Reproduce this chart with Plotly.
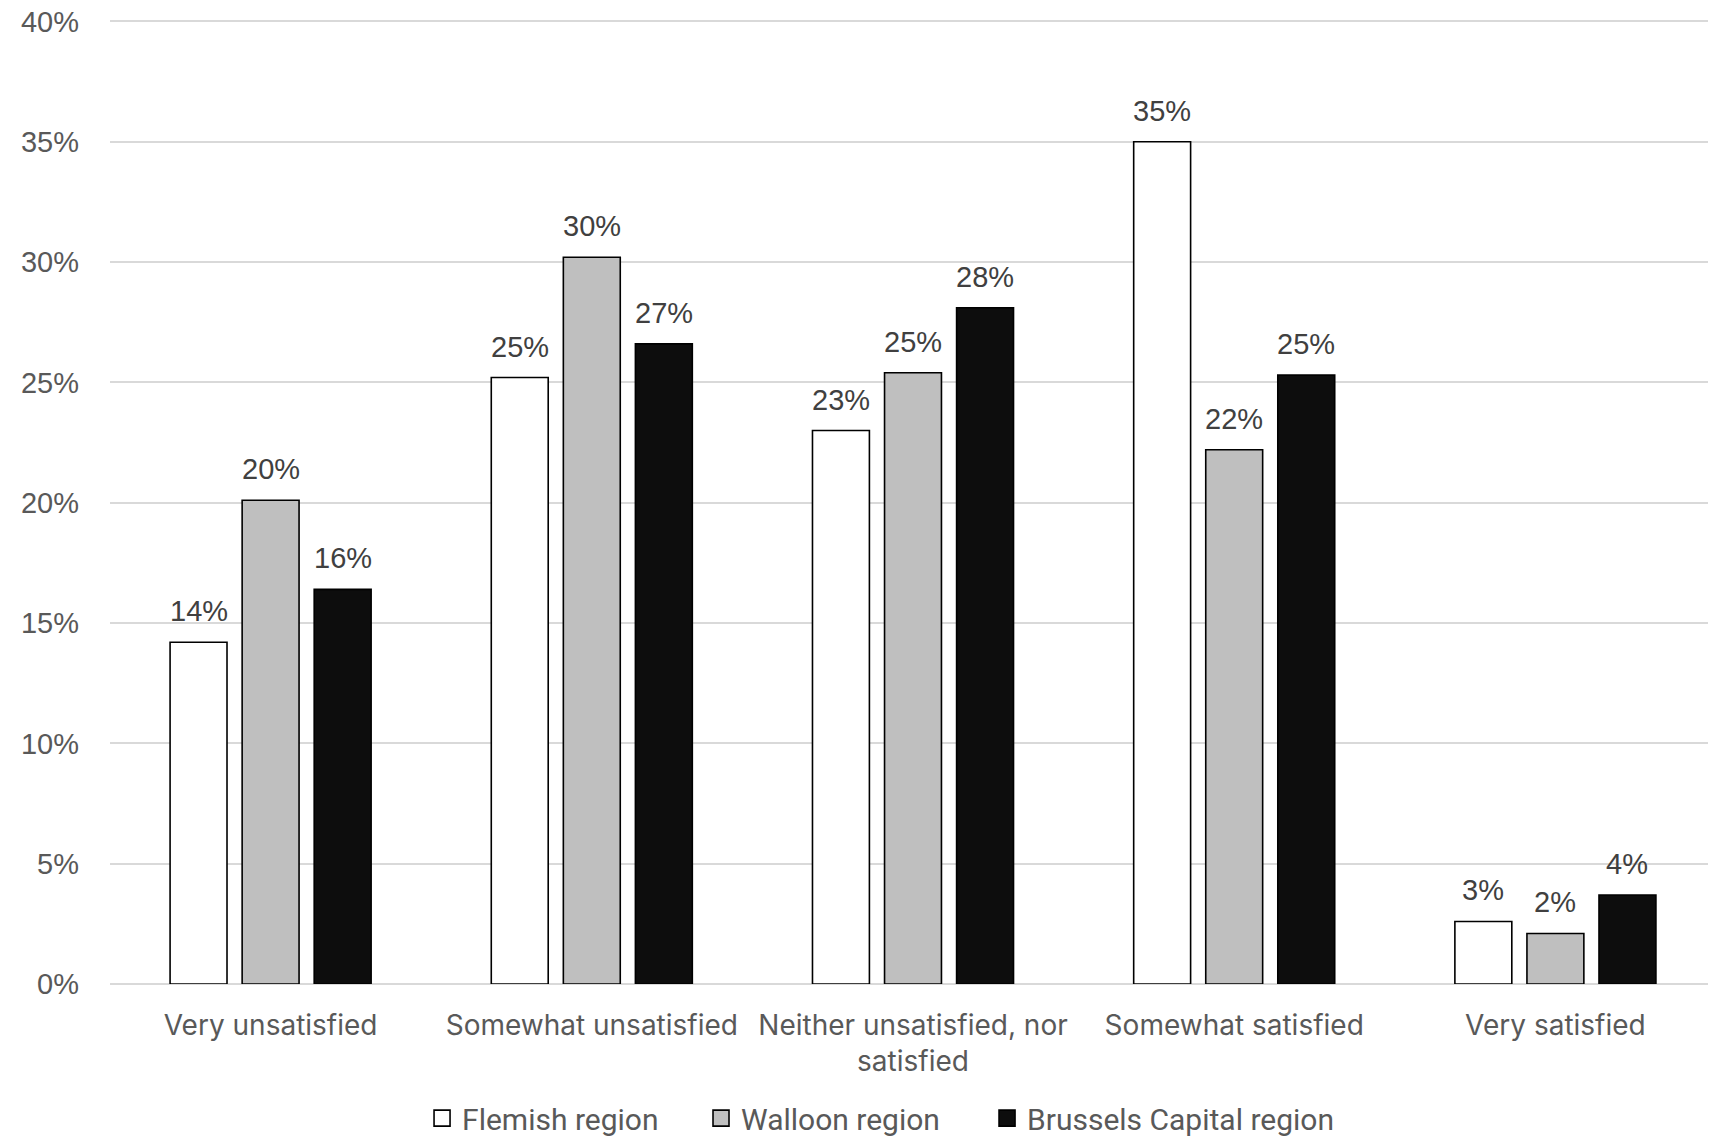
import plotly.graph_objects as go

categories = ["Very unsatisfied", "Somewhat unsatisfied",
              "Neither unsatisfied, nor<br>satisfied", "Somewhat satisfied", "Very satisfied"]
series_names = ["Flemish region", "Walloon region", "Brussels Capital region"]
flemish = [0.142, 0.252, 0.230, 0.350, 0.026]
walloon = [0.201, 0.302, 0.254, 0.222, 0.021]
brussels = [0.164, 0.266, 0.281, 0.253, 0.037]
series_values = [flemish, walloon, brussels]
fills = ["#ffffff", "#bfbfbf", "#0d0d0d"]
y_ticks = [0, 0.05, 0.10, 0.15, 0.20, 0.25, 0.30, 0.35, 0.40]

# page body adds an 8px offset; figure is sized to fill the 1716x1141 window
W, H = 1708, 1133
ML, MR, MT, MB = 102, 0, 11, 157
BARGAP, GROUPGAP = 0.327, 0.21
LEGEND_X = [0.1943, 0.3680, 0.5461]
LEGEND_Y = -0.139

fig = go.Figure()
for name, vals, col in zip(series_names, series_values, fills):
    fig.add_trace(go.Bar(
        x=categories, y=vals, name=name, showlegend=False,
        marker=dict(color=col, line=dict(color="#000000", width=1.6)),
        hoverinfo="x+y",
    ))

# legend-only entries with larger square swatches, one legend each
legend_ids = ["legend", "legend2", "legend3"]
for name, col, lid in zip(series_names, fills, legend_ids):
    fig.add_trace(go.Scatter(
        x=[None], y=[None], mode="markers", name=name, showlegend=True,
        legend=lid,
        marker=dict(symbol="square", size=16, color=col,
                    line=dict(color="#000000", width=1.6)),
        hoverinfo="skip",
    ))

# data labels above bars
plot_w = W - ML - MR
slot = (1 - BARGAP) * (plot_w / len(categories)) / len(series_names)
for i, vals in enumerate(series_values):
    shift = (i - (len(series_names) - 1) / 2) * slot
    for c, v in zip(categories, vals):
        fig.add_annotation(
            x=c, y=v, xref="x", yref="y", text=f"{round(v*100):.0f}%",
            showarrow=False, yanchor="bottom", xanchor="center",
            xshift=shift, yshift=13,
            font=dict(family="Liberation Sans, Arial", size=29, color="#404040"),
        )

legend_style = dict(
    orientation="h", xanchor="left", y=LEGEND_Y, yanchor="middle",
    font=dict(family="Roboto, Liberation Sans", size=30, color="#595959"),
    itemclick=False, bgcolor="rgba(0,0,0,0)",
)

fig.update_layout(
    width=W, height=H,
    margin=dict(l=ML, r=MR, t=MT, b=MB, autoexpand=False),
    paper_bgcolor="#ffffff", plot_bgcolor="#ffffff",
    barmode="group", bargap=BARGAP, bargroupgap=GROUPGAP,
    showlegend=True,
    legend=dict(x=LEGEND_X[0], **legend_style),
    legend2=dict(x=LEGEND_X[1], **legend_style),
    legend3=dict(x=LEGEND_X[2], **legend_style),
    xaxis=dict(
        type="category", showgrid=False, showline=False, zeroline=False,
        ticks="", ticklabelstandoff=22, automargin=False,
        tickfont=dict(family="Inter, Liberation Sans", size=28, color="#595959"),
        fixedrange=True,
    ),
    yaxis=dict(
        range=[0, 0.401], tickvals=y_ticks, tickformat=".0%",
        showgrid=True, gridcolor="#d9d9d9", gridwidth=1.5,
        zeroline=True, zerolinecolor="#d9d9d9", zerolinewidth=1.6,
        showline=False, ticks="", ticklabelstandoff=30, automargin=False,
        ticklabeloverflow="allow",
        tickfont=dict(family="Liberation Sans, Arial", size=29, color="#595959"),
        fixedrange=True,
    ),
)

fig.write_html("out.html")
